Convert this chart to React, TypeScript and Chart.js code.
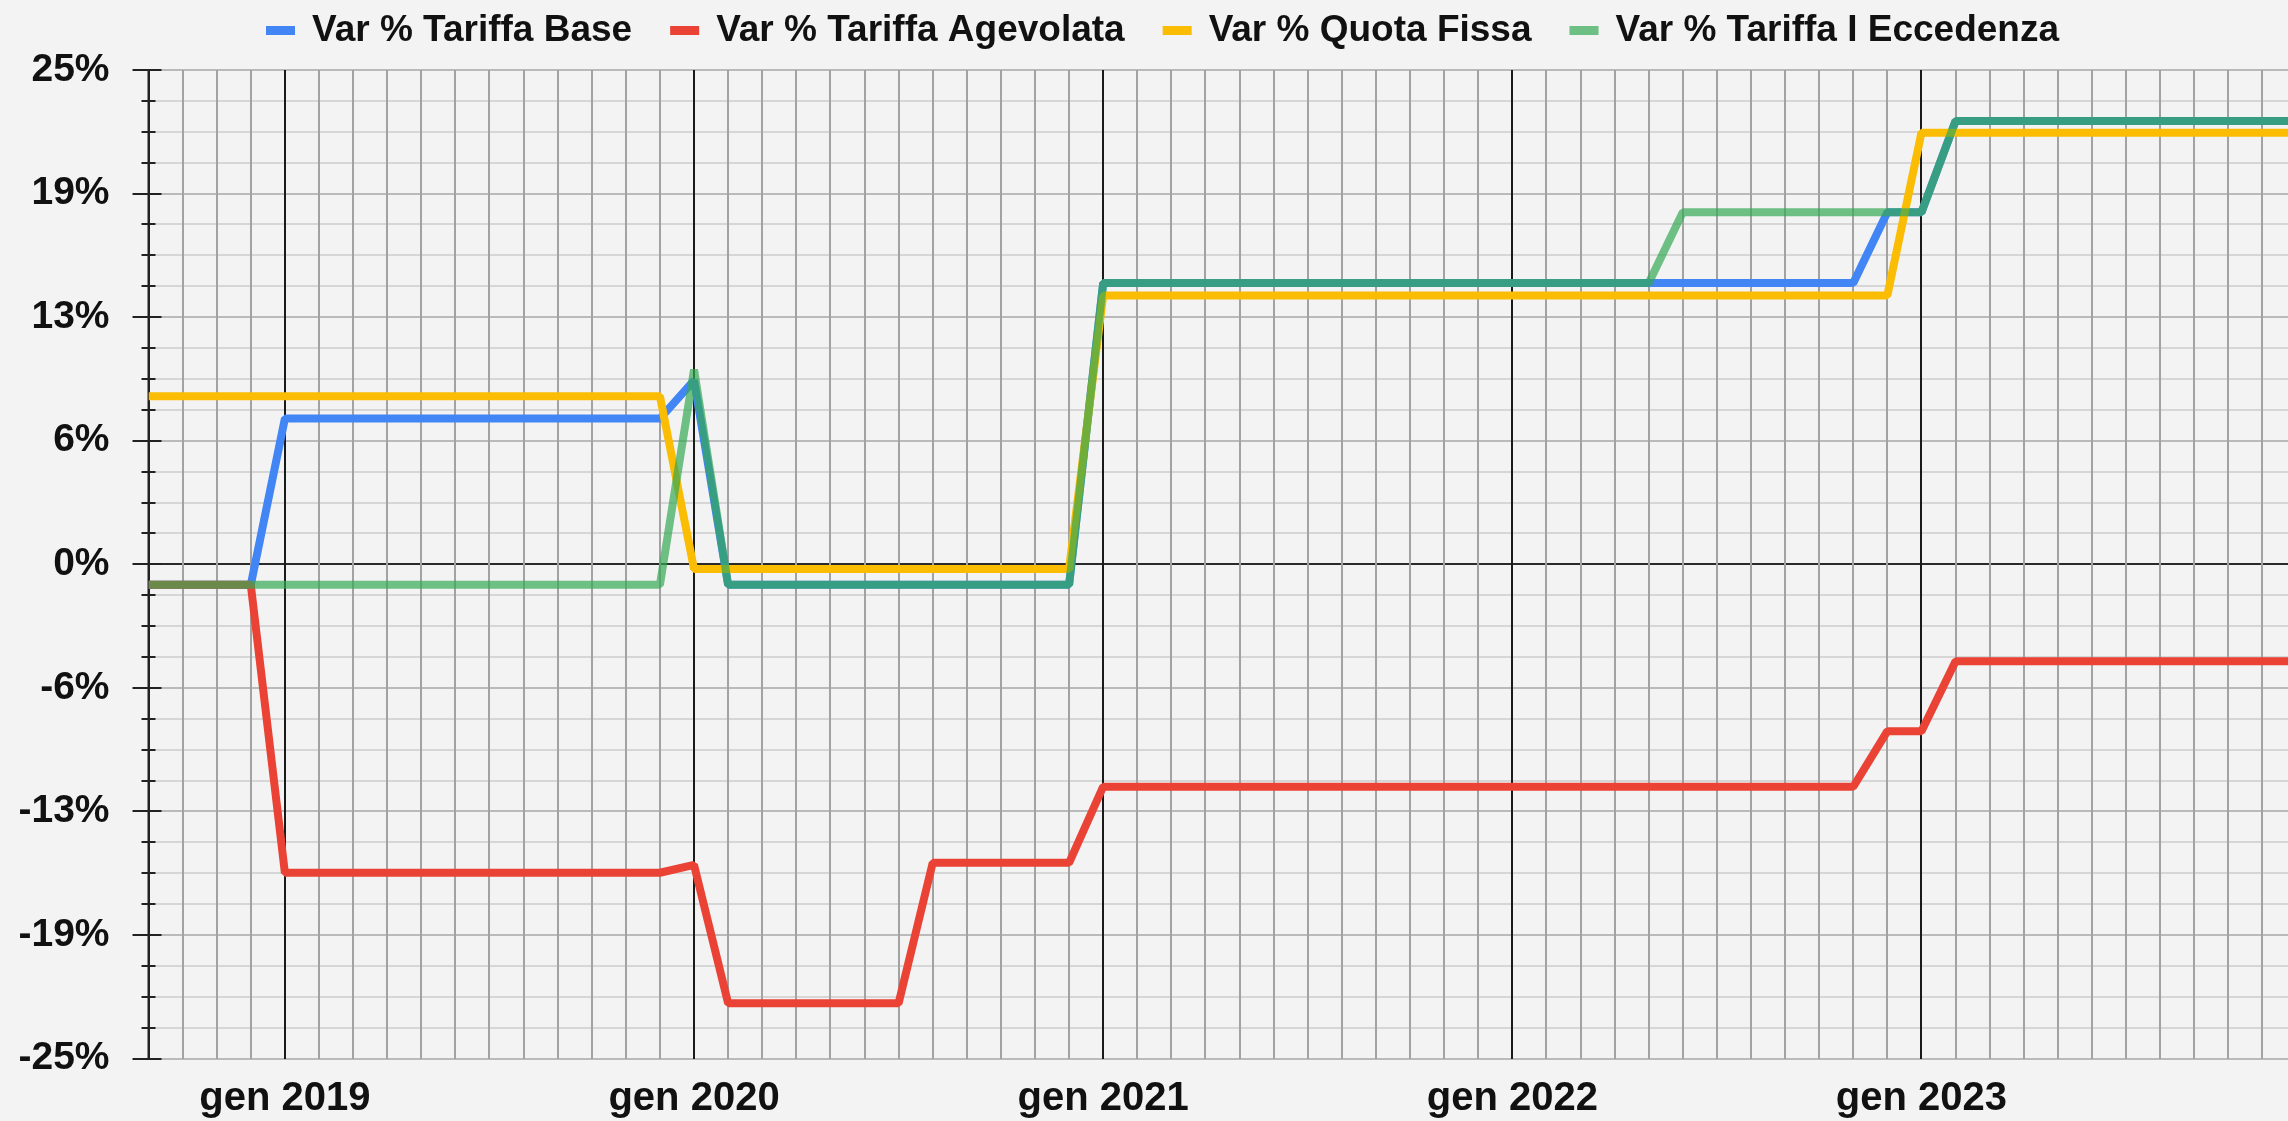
import React, { useEffect, useRef } from 'react';
import { Chart, registerables } from 'chart.js';

Chart.register(...registerables);

// ---- Data -----------------------------------------------------------------
const MONTHS = [
  'set 2018', 'ott 2018', 'nov 2018', 'dic 2018',
  'gen 2019', 'feb 2019', 'mar 2019', 'apr 2019', 'mag 2019', 'giu 2019', 'lug 2019', 'ago 2019', 'set 2019', 'ott 2019', 'nov 2019', 'dic 2019',
  'gen 2020', 'feb 2020', 'mar 2020', 'apr 2020', 'mag 2020', 'giu 2020', 'lug 2020', 'ago 2020', 'set 2020', 'ott 2020', 'nov 2020', 'dic 2020',
  'gen 2021', 'feb 2021', 'mar 2021', 'apr 2021', 'mag 2021', 'giu 2021', 'lug 2021', 'ago 2021', 'set 2021', 'ott 2021', 'nov 2021', 'dic 2021',
  'gen 2022', 'feb 2022', 'mar 2022', 'apr 2022', 'mag 2022', 'giu 2022', 'lug 2022', 'ago 2022', 'set 2022', 'ott 2022', 'nov 2022', 'dic 2022',
  'gen 2023', 'feb 2023', 'mar 2023', 'apr 2023', 'mag 2023', 'giu 2023', 'lug 2023', 'ago 2023', 'set 2023', 'ott 2023', 'nov 2023', 'dic 2023',
];

const TARIFFA_BASE = [
  -1.04, -1.04, -1.04, -1.04,
  7.37, 7.37, 7.37, 7.37, 7.37, 7.37, 7.37, 7.37, 7.37, 7.37, 7.37, 7.37,
  9.3, -1.04, -1.04, -1.04, -1.04, -1.04, -1.04, -1.04, -1.04, -1.04, -1.04, -1.04,
  14.23, 14.23, 14.23, 14.23, 14.23, 14.23, 14.23, 14.23, 14.23, 14.23, 14.23, 14.23,
  14.23, 14.23, 14.23, 14.23, 14.23, 14.23, 14.23, 14.23, 14.23, 14.23, 14.23, 17.8,
  17.8, 22.42, 22.42, 22.42, 22.42, 22.42, 22.42, 22.42, 22.42, 22.42, 22.42, 22.42,
];

const TARIFFA_AGEVOLATA = [
  -1.04, -1.04, -1.04, -1.04,
  -15.6, -15.6, -15.6, -15.6, -15.6, -15.6, -15.6, -15.6, -15.6, -15.6, -15.6, -15.6,
  -15.2, -22.2, -22.2, -22.2, -22.2, -22.2, -22.2, -15.1, -15.1, -15.1, -15.1, -15.1,
  -11.25, -11.25, -11.25, -11.25, -11.25, -11.25, -11.25, -11.25, -11.25, -11.25, -11.25, -11.25,
  -11.25, -11.25, -11.25, -11.25, -11.25, -11.25, -11.25, -11.25, -11.25, -11.25, -11.25, -8.44,
  -8.44, -4.9, -4.9, -4.9, -4.9, -4.9, -4.9, -4.9, -4.9, -4.9, -4.9, -4.9,
];

const QUOTA_FISSA = [
  8.5, 8.5, 8.5, 8.5,
  8.5, 8.5, 8.5, 8.5, 8.5, 8.5, 8.5, 8.5, 8.5, 8.5, 8.5, 8.5,
  -0.24, -0.24, -0.24, -0.24, -0.24, -0.24, -0.24, -0.24, -0.24, -0.24, -0.24, -0.24,
  13.6, 13.6, 13.6, 13.6, 13.6, 13.6, 13.6, 13.6, 13.6, 13.6, 13.6, 13.6,
  13.6, 13.6, 13.6, 13.6, 13.6, 13.6, 13.6, 13.6, 13.6, 13.6, 13.6, 13.6,
  21.83, 21.83, 21.83, 21.83, 21.83, 21.83, 21.83, 21.83, 21.83, 21.83, 21.83, 21.83,
];

const TARIFFA_ECCEDENZA = [
  -1.04, -1.04, -1.04, -1.04,
  -1.04, -1.04, -1.04, -1.04, -1.04, -1.04, -1.04, -1.04, -1.04, -1.04, -1.04, -1.04,
  9.85, -1.04, -1.04, -1.04, -1.04, -1.04, -1.04, -1.04, -1.04, -1.04, -1.04, -1.04,
  14.23, 14.23, 14.23, 14.23, 14.23, 14.23, 14.23, 14.23, 14.23, 14.23, 14.23, 14.23,
  14.23, 14.23, 14.23, 14.23, 14.23, 17.8, 17.8, 17.8, 17.8, 17.8, 17.8, 17.8,
  17.8, 22.42, 22.42, 22.42, 22.42, 22.42, 22.42, 22.42, 22.42, 22.42, 22.42, 22.42,
];

const SERIES_LABELS = [
  'Var % Tariffa Base',
  'Var % Tariffa Agevolata',
  'Var % Quota Fissa',
  'Var % Tariffa I Eccedenza',
];

const Y_TICK_VALUES = [-25, -18.75, -12.5, -6.25, 0, 6.25, 12.5, 18.75, 25];
const Y_TICK_LABELS = ['-25%', '-19%', '-13%', '-6%', '0%', '6%', '13%', '19%', '25%'];

// ---- Styles ---------------------------------------------------------------
const W = 2288;
const H = 1121;
const FONT = '"Liberation Sans", Arial, Helvetica, sans-serif';
const BG = '#f3f3f3';
const TEXT = '#111111';
const COLORS = ['#4285F4', '#EA4335', '#FBBC04', 'rgba(52,168,83,0.7)'];
const DRAW_ORDER = [3, 2, 1, 0];

export default function App() {
  const ref = useRef<HTMLCanvasElement | null>(null);

  useEffect(() => {
    const canvas = ref.current;
    if (!canvas) return;
    const seriesValues = [TARIFFA_BASE, TARIFFA_AGEVOLATA, QUOTA_FISSA, TARIFFA_ECCEDENZA];

    const bgPlugin = {
      id: 'bgFill',
      beforeDraw(chart: any) {
        const { ctx } = chart;
        ctx.save();
        ctx.fillStyle = BG;
        ctx.fillRect(0, 0, chart.width, chart.height);
        ctx.restore();
      },
    };

    const axisPlugin = {
      id: 'leftAxisTicks',
      beforeDatasetsDraw(chart: any) {
        const { ctx, chartArea } = chart;
        const ys = chart.scales.y;
        const x0 = chartArea.left;
        ctx.save();
        ctx.strokeStyle = '#222';
        ctx.lineWidth = 2;
        ctx.beginPath();
        ctx.moveTo(x0, chartArea.top);
        ctx.lineTo(x0, chartArea.bottom);
        ctx.stroke();
        ys.ticks.forEach((t: any) => {
          const py = Math.round(ys.getPixelForValue(t.value));
          const major = Y_TICK_VALUES.indexOf(t.value) >= 0;
          const l = major ? 16 : 7;
          const r = major ? 13 : 7;
          ctx.beginPath();
          ctx.moveTo(x0 - l, py);
          ctx.lineTo(x0 + r, py);
          ctx.stroke();
        });
        ctx.restore();
      },
    };

    const legendPlugin = {
      id: 'topLegend',
      afterDraw(chart: any) {
        const { ctx } = chart;
        ctx.save();
        ctx.font = `bold 37px ${FONT}`;
        ctx.textBaseline = 'middle';
        ctx.textAlign = 'left';
        let x = 266;
        chart.data.datasets.forEach((ds: any) => {
          ctx.fillStyle = ds.borderColor;
          ctx.fillRect(x, 26, 29, 9);
          x += 29 + 17;
          ctx.fillStyle = TEXT;
          ctx.fillText(ds.label, x, 31);
          x += ctx.measureText(ds.label).width + 38;
        });
        ctx.restore();
      },
    };

    const chart = new Chart(canvas, {
      type: 'line',
      data: {
        datasets: SERIES_LABELS.map((label, i) => ({
          label,
          data: seriesValues[i].map((v, k) => ({ x: k, y: v })),
          borderColor: COLORS[i],
          backgroundColor: COLORS[i],
          borderWidth: 8,
          borderJoinStyle: 'bevel',
          pointRadius: 0,
          tension: 0,
          fill: false,
          order: DRAW_ORDER[i],
        })),
      },
      options: {
        responsive: false,
        animation: false,
        devicePixelRatio: 1,
        layout: { padding: { top: 70, left: 0, right: 0, bottom: 0 } },
        plugins: {
          legend: { display: false },
          tooltip: { enabled: false },
        },
        scales: {
          x: {
            type: 'linear',
            min: 0,
            max: 62.75,
            afterFit: (s: any) => { s.height = 60; },
            border: { display: false },
            grid: {
              z: -1,
              drawTicks: false,
              lineWidth: 2,
              color: (c: any) => {
                const v = c.tick && c.tick.value;
                const lbl = MONTHS[v];
                if (v === 0) return '#222';
                return lbl && lbl.startsWith('gen') ? '#1a1a1a' : '#a2a2a2';
              },
            },
            ticks: {
              stepSize: 1,
              autoSkip: false,
              includeBounds: false,
              maxRotation: 0,
              minRotation: 0,
              padding: 16,
              color: TEXT,
              font: { family: FONT, size: 40, weight: 'bold' },
              callback: (v: any) => {
                const lbl = MONTHS[v as number];
                return lbl && lbl.startsWith('gen') ? lbl : '';
              },
            },
          },
          y: {
            min: -25,
            max: 25,
            afterFit: (s: any) => { s.width = 148.5; },
            border: { display: false },
            grid: {
              z: -2,
              drawTicks: false,
              lineWidth: 2,
              color: (c: any) => {
                const v = c.tick && c.tick.value;
                if (v === 0) return '#2a2a2a';
                return Y_TICK_VALUES.indexOf(v) >= 0 ? '#bababa' : '#d6d6d6';
              },
            },
            ticks: {
              stepSize: 1.5625,
              autoSkip: false,
              padding: 39,
              color: TEXT,
              font: { family: FONT, size: 39, weight: 'bold' },
              callback: (v: any) => {
                const i = Y_TICK_VALUES.indexOf(v as number);
                return i >= 0 ? Y_TICK_LABELS[i] : '';
              },
            },
          },
        },
      } as any,
      plugins: [bgPlugin, axisPlugin, legendPlugin],
    });

    return () => chart.destroy();
  }, []);

  return (
    <div style={{ position: 'fixed', left: 0, top: 0, width: W, height: H, background: BG, overflow: 'hidden' }}>
      <canvas ref={ref} width={W} height={H} style={{ display: 'block', width: W, height: H }} />
    </div>
  );
}
